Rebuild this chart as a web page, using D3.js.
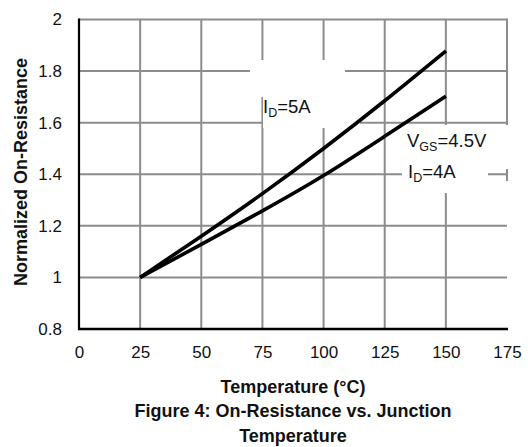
<!DOCTYPE html>
<html>
<head>
<meta charset="utf-8">
<script src="https://cdn.jsdelivr.net/npm/d3@7"></script>
<style>
body { margin: 0; background: #fff; }
text { font-family: "Liberation Sans", Arial, sans-serif; }
</style>
</head>
<body>
<svg id="chart" width="528" height="447"></svg>
<script>
// values
var temps = [25, 50, 75, 100, 125, 150];
var rds5A = [1.0, 1.16, 1.325, 1.50, 1.685, 1.878];
var rds4A = [1.0, 1.128, 1.258, 1.395, 1.547, 1.702];
var xTicks = [0, 25, 50, 75, 100, 125, 150, 175];
var yTicks = [0.8, 1, 1.2, 1.4, 1.6, 1.8, 2];

var svg = d3.select('#chart');
var pLeft = 79, pRight = 507, pTop = 19.5, pBottom = 329;

var x = d3.scaleLinear().domain([0, 175]).range([pLeft, pRight]);
var y = d3.scaleLinear().domain([0.8, 2]).range([pBottom, pTop]);

var gridColor = '#8c8c8c';

// grid
var g = svg.append('g').attr('class', 'grid');
g.selectAll('line.v')
	.data(xTicks.filter(function(d) { return d > 0 && d < 175; }))
	.enter().append('line')
	.attr('x1', function(d) { return x(d); })
	.attr('x2', function(d) { return x(d); })
	.attr('y1', pTop).attr('y2', pBottom)
	.attr('stroke', gridColor).attr('stroke-width', 2);
g.selectAll('line.h')
	.data(yTicks.filter(function(d) { return d > 0.8; }))
	.enter().append('line')
	.attr('x1', pLeft).attr('x2', pRight)
	.attr('y1', function(d) { return y(d); })
	.attr('y2', function(d) { return y(d); })
	.attr('stroke', gridColor).attr('stroke-width', 2);

// right border only partly visible in the original
g.append('line')
	.attr('x1', pRight).attr('x2', pRight)
	.attr('y1', pTop - 1).attr('y2', 125)
	.attr('stroke', gridColor).attr('stroke-width', 2);
g.append('line')
	.attr('x1', pRight).attr('x2', pRight)
	.attr('y1', 169).attr('y2', 181)
	.attr('stroke', gridColor).attr('stroke-width', 2);

// white label boxes knocking out grid
var boxes = [
	[250, 60, 95, 37],
	[263, 96, 97, 32],
	[402, 125, 86, 68]
];
svg.selectAll('rect.knock')
	.data(boxes)
	.enter().append('rect')
	.attr('x', function(d) { return d[0]; })
	.attr('y', function(d) { return d[1]; })
	.attr('width', function(d) { return d[2]; })
	.attr('height', function(d) { return d[3]; })
	.attr('fill', '#fff');

// axes lines
svg.append('line')
	.attr('x1', pLeft).attr('x2', pLeft)
	.attr('y1', pTop - 1).attr('y2', pBottom + 1)
	.attr('stroke', '#000').attr('stroke-width', 2.2);
svg.append('line')
	.attr('x1', pLeft - 1).attr('x2', pRight + 1)
	.attr('y1', pBottom).attr('y2', pBottom)
	.attr('stroke', '#000').attr('stroke-width', 2.5);

// tick labels
var xAxis = svg.append('g')
	.attr('transform', 'translate(0,' + (pBottom + 14) + ')')
	.call(d3.axisBottom(x).tickValues(xTicks).tickSize(0).tickFormat(d3.format('d')));
xAxis.select('.domain').remove();
xAxis.selectAll('text').attr('font-size', 17).attr('fill', '#111')
	.attr('font-family', '"Liberation Sans", Arial, sans-serif');

var yAxis = svg.append('g')
	.attr('transform', 'translate(' + (pLeft - 14) + ',0)')
	.call(d3.axisLeft(y).tickValues(yTicks).tickSize(0).tickFormat(function(d) { return d3.format('')(d); }));
yAxis.select('.domain').remove();
yAxis.selectAll('text').attr('font-size', 17).attr('fill', '#111')
	.attr('font-family', '"Liberation Sans", Arial, sans-serif');

// curves
var line = d3.line()
	.x(function(d) { return x(d[0]); })
	.y(function(d) { return y(d[1]); })
	.curve(d3.curveNatural);

[rds5A, rds4A].forEach(function(vals) {
	svg.append('path')
		.datum(temps.map(function(t, i) { return [t, vals[i]]; }))
		.attr('d', line)
		.attr('fill', 'none')
		.attr('stroke', '#000')
		.attr('stroke-width', 3.6)
		.attr('stroke-linecap', 'butt');
});

// labels
var addLabel = function(px, py, main, sub, rest) {
	var t = svg.append('text').attr('x', px).attr('y', py)
		.attr('font-size', 18.5).attr('fill', '#111');
	t.append('tspan').text(main);
	t.append('tspan').attr('font-size', 12.5).attr('dy', 4).text(sub);
	t.append('tspan').attr('dy', -4).text(rest);
};
addLabel(263, 113, 'I', 'D', '=5A');
addLabel(407, 147, 'V', 'GS', '=4.5V');
addLabel(408, 178, 'I', 'D', '=4A');

// titles
svg.append('text')
	.attr('transform', 'translate(27,172) rotate(-90)')
	.attr('text-anchor', 'middle')
	.attr('font-size', 18).attr('font-weight', 'bold').attr('fill', '#111')
	.text('Normalized On-Resistance');

var titles = [
	['Temperature (°C)', 393],
	['Figure 4: On-Resistance vs. Junction', 417],
	['Temperature', 441.5]
];
svg.selectAll('text.title')
	.data(titles)
	.enter().append('text')
	.attr('class', 'title')
	.attr('x', 293)
	.attr('y', function(d) { return d[1]; })
	.attr('text-anchor', 'middle')
	.attr('font-size', 18).attr('font-weight', 'bold').attr('fill', '#111')
	.text(function(d) { return d[0]; });
</script>
</body>
</html>
